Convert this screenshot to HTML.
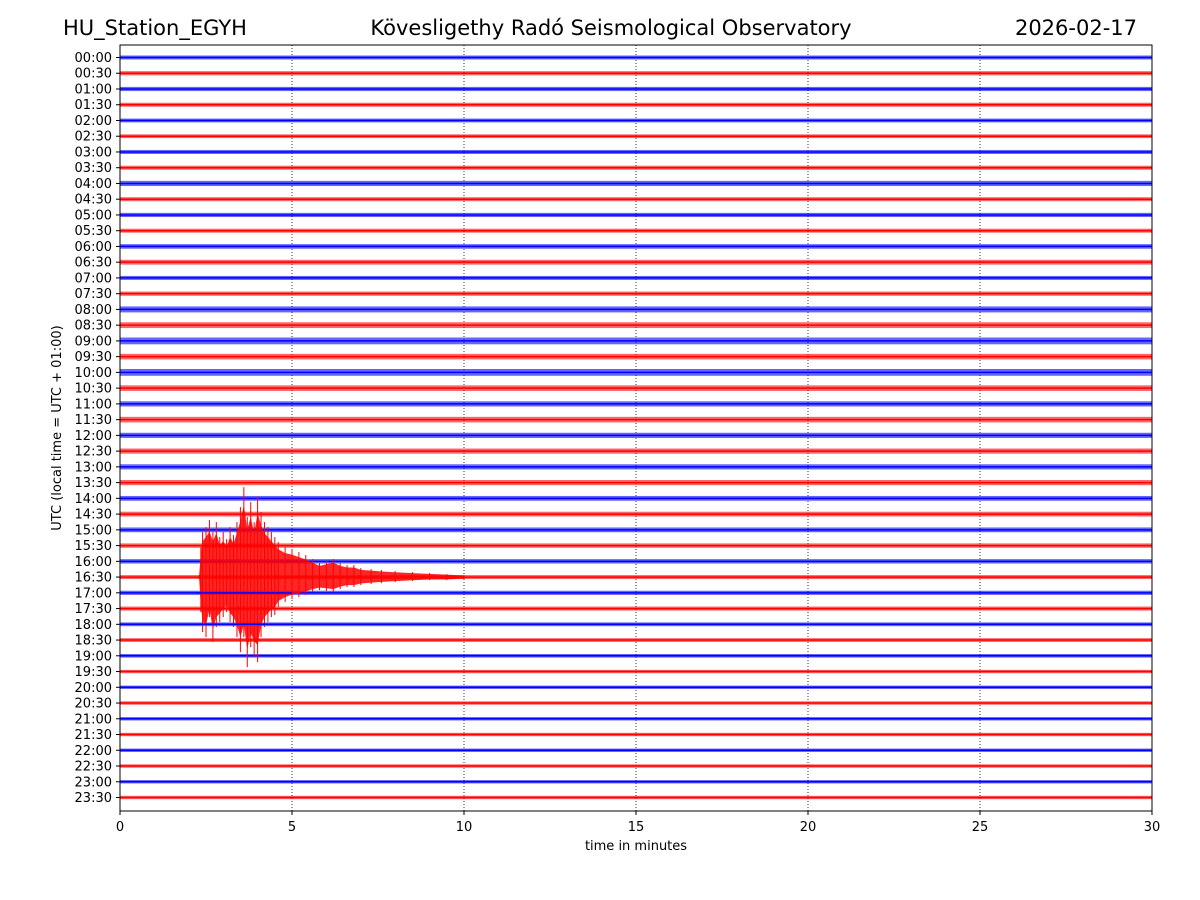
<!DOCTYPE html>
<html><head><meta charset="utf-8"><style>
html,body{margin:0;padding:0;background:#fff;}
svg{display:block;font-family:"DejaVu Sans","Liberation Sans",sans-serif;}
</style></head><body>
<svg id="chart" width="1200" height="900" viewBox="0 0 1200 900">
<rect width="1200" height="900" fill="#fff"/>
<text x="63" y="35" font-size="21">HU_Station_EGYH</text>
<text x="611" y="35" font-size="21" text-anchor="middle">Kövesligethy Radó Seismological Observatory</text>
<text x="1137" y="35" font-size="21" text-anchor="end">2026-02-17</text>
<g id="grid"></g>
<g id="traces"></g>
<g id="event"></g>
<rect x="120" y="45" width="1032" height="766" fill="none" stroke="#000" stroke-width="1"/>
<g id="yticks"></g>
<g id="xticks"></g>
<text x="636" y="850" font-size="13" text-anchor="middle">time in minutes</text>
<text transform="translate(61,428) rotate(-90)" font-size="13" text-anchor="middle">UTC (local time = UTC + 01:00)</text>
</svg>
<script>
const rowLabels = [];
for (let h = 0; h < 24; h++) { const hh = String(h).padStart(2,'0'); rowLabels.push(hh+':00'); rowLabels.push(hh+':30'); }
const xTicks = [0,5,10,15,20,25,30];
const noiseAmp = [2.0,2.1,2.1,2.0,1.9,1.9,2.0,2.0,2.6,2.0,2.1,2.0,2.3,2.4,2.0,2.1,3.0,2.9,3.4,2.8,3.4,2.8,2.6,2.8,2.6,2.6,2.6,2.6,2.4,2.4,2.4,2.2,2.2,2.0,2.1,2.0,1.9,1.9,1.8,1.7,1.7,1.7,1.7,1.7,1.7,1.7,1.7,1.7];
const eventRow = 33;
const eventT = [2.30,2.35,2.40,2.50,2.60,2.70,2.80,2.90,3.00,3.10,3.20,3.30,3.40,3.50,3.60,3.70,3.80,3.90,4.00,4.10,4.20,4.30,4.40,4.50,4.60,4.80,5.00,5.20,5.40,5.60,5.80,6.00,6.20,6.40,6.60,6.80,7.00,7.30,7.60,8.00,8.50,9.00,9.50,10.0];
const eventUp = [2,30,45,50,57,45,55,40,45,38,50,42,55,70,90,60,75,55,80,65,55,50,45,40,35,30,28,25,22,18,14,16,18,14,12,12,9,8,7,6,5,4,3,2];
const eventDown = [2,35,55,60,40,65,50,45,40,35,45,50,60,75,60,90,70,80,85,60,50,45,40,38,30,25,22,20,18,15,13,14,15,12,10,10,8,7,6,5,4,3,3,2];

const NS='http://www.w3.org/2000/svg';
const x = m => 120 + m*(1032/30);
const rowY = i => 57.5 + i*(740/47);
const ampPx = a => a;
function mk(tag, attrs, parent){ const e=document.createElementNS(NS,tag); for(const k in attrs) e.setAttribute(k,attrs[k]); parent.appendChild(e); return e; }
const grid=document.getElementById('grid'), traces=document.getElementById('traces'), ev=document.getElementById('event'), yt=document.getElementById('yticks'), xt=document.getElementById('xticks');

xTicks.forEach(t=>{
  if(t>0&&t<30){ const g=mk('line',{x1:x(t),x2:x(t),y1:45,y2:811,stroke:'#000','stroke-width':0.8,'stroke-dasharray':'1,2'},grid);
    
     }
  const tk=mk('line',{x1:x(t),x2:x(t),y1:811,y2:815,stroke:'#000'},xt);
  
  
  const lb=mk('text',{x:x(t),y:831,'font-size':13,'text-anchor':'middle'},xt); lb.textContent=t;
  
  
});

rowLabels.forEach((lab,i)=>{
  const y=rowY(i), col = i%2===0 ? '#0000ff' : '#ff0000';
  const a=ampPx(noiseAmp[i]);
  const g=mk('g',{},traces);
  
  
  mk('rect',{x:x(0),y:y-a,width:x(30)-x(0),height:2*a,fill:col,opacity:0.6},g);
  mk('line',{x1:x(0),x2:x(30),y1:y,y2:y,stroke:col,'stroke-width':1.5},g);
  const tk=mk('line',{x1:116,x2:120,y1:y,y2:y,stroke:'#000'},yt);
  
  
  const lb=mk('text',{x:112,y:y+4.5,'font-size':13,'text-anchor':'end'},yt); lb.textContent=lab;
  
  
  if(i===eventRow){
    const y0=y;
    let pts=eventT.map((t,k)=>x(t)+','+(y0-0.8*ampPx(eventUp[k]))).join(' ');
    pts+=' '+eventT.slice().reverse().map((t,k)=>{const j=eventT.length-1-k; return x(t)+','+(y0+0.8*ampPx(eventDown[j]));}).join(' ');
    const p=mk('polygon',{points:pts,fill:'#ff0000',opacity:0.85},ev);
    
    
    eventT.forEach((t,k)=>{
      const l=mk('line',{x1:x(t),x2:x(t),y1:y0-ampPx(eventUp[k]),y2:y0+ampPx(eventDown[k]),stroke:'#ff0000','stroke-width':1},ev);
      
      
    });
  }
});
[34,36].forEach(i=>{
  const y=rowY(i);
  const l=mk('line',{x1:x(2.2),x2:x(5),y1:y,y2:y,stroke:'#0000ff','stroke-width':1.5},ev);
  
  
});
</script>
</body></html>
